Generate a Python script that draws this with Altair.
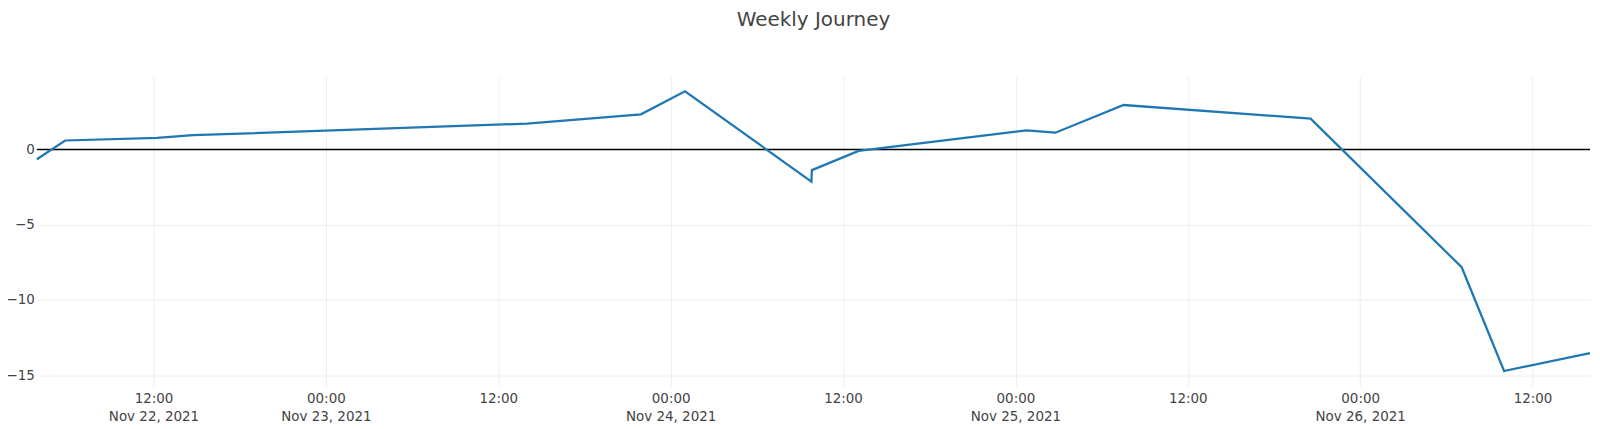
import altair as alt
import pandas as pd

# Series (local time)
times = [
    "2021-11-22T03:53:00", "2021-11-22T05:51:00", "2021-11-22T12:15:00",
    "2021-11-22T14:45:00", "2021-11-23T14:00:00", "2021-11-23T21:56:00",
    "2021-11-24T01:00:00", "2021-11-24T09:48:00", "2021-11-24T09:50:00",
    "2021-11-24T13:05:00", "2021-11-25T00:46:00", "2021-11-25T02:47:00",
    "2021-11-25T07:32:00", "2021-11-25T20:33:00", "2021-11-26T07:04:00",
    "2021-11-26T10:01:00", "2021-11-26T16:00:00",
]
values = [
    -0.65, 0.60, 0.77, 0.95, 1.72, 2.34, 3.87, -2.13, -1.37,
    -0.09, 1.27, 1.12, 2.96, 2.05, -7.83, -14.73, -13.54,
]

# Tick positions (every 12 hours) and y ticks
x_ticks = [
    (22, 12), (23, 0), (23, 12), (24, 0), (24, 12),
    (25, 0), (25, 12), (26, 0), (26, 12),
]
y_ticks = [-15, -10, -5, 0]
y_domain = [-15.76, 4.86]
title_text = "Weekly Journey"

df = pd.DataFrame({"time": times, "value": values})
zero_df = pd.DataFrame({"value": [0]})

FONT = "DejaVu Sans"
TEXT = "#444444"
GRID = "#eeeeee"

tick_values = [alt.DateTime(year=2021, month=11, date=d, hours=h) for d, h in x_ticks]

label_expr = (
    "(timeFormat(datum.value, '%H') == '00' || datum.index == 0) ? "
    "[timeFormat(datum.value, '%H:%M'), timeFormat(datum.value, '%b %d, %Y')] : "
    "timeFormat(datum.value, '%H:%M')"
)

x_enc = alt.X(
    "time:T",
    title=None,
    scale=alt.Scale(nice=False),
    axis=alt.Axis(
        values=tick_values,
        labelExpr=label_expr,
        grid=True,
        gridColor=GRID,
        gridWidth=1,
        domain=False,
        ticks=False,
        tickSize=0,
        labelPadding=5,
        labelFlush=False,
        labelOverlap=False,
        labelBound=False,
        labelFont=FONT,
        labelFontSize=13.5,
        labelColor=TEXT,
        labelLineHeight=18,
        labelBaseline="top",
    ),
)

y_scale = alt.Scale(domain=y_domain, nice=False, zero=False)

line = alt.Chart(df).mark_line(color="#1f77b4", strokeWidth=2.25).encode(
    x=x_enc,
    y=alt.Y(
        "value:Q",
        title=None,
        scale=y_scale,
        axis=alt.Axis(
            values=y_ticks,
            format="d",
            grid=True,
            gridColor=GRID,
            gridWidth=1,
            domain=False,
            ticks=False,
            tickSize=0,
            labelPadding=2.5,
            labelFont=FONT,
            labelFontSize=13.5,
            labelColor=TEXT,
        ),
    ),
)

zero = alt.Chart(zero_df).mark_rule(color="black", strokeWidth=1.5).encode(
    y=alt.Y("value:Q", scale=y_scale)
)

chart = (
    alt.layer(zero, line)
    .properties(
        width=1558,
        height=311,
        title=alt.TitleParams(
            title_text,
            font=FONT,
            fontSize=20,
            fontWeight="normal",
            color=TEXT,
            anchor="middle",
            frame="group",
            baseline="alphabetic",
            offset=31,
        ),
        padding={"left": 29, "top": 68, "right": 2, "bottom": 40},
        autosize=alt.AutoSizeParams(type="none"),
    )
    .configure_view(stroke=None)
)

chart.save("out.html", embed_options={"renderer": "svg", "actions": False})
